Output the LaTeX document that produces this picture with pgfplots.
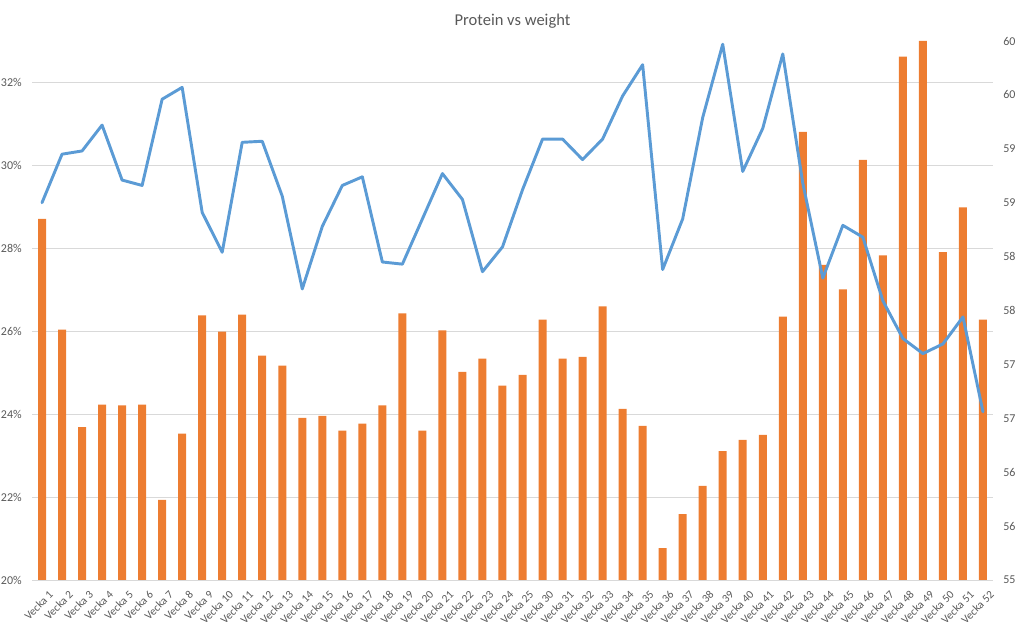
\documentclass[border=0pt]{standalone}
\usepackage{pgfplots}
\pgfplotsset{compat=1.18}
\usepackage{pgfplotstable}
\usepackage{fontspec}
\setmainfont{Carlito}
\definecolor{barorange}{HTML}{ED7D31}
\definecolor{lineblue}{HTML}{5B9BD5}
\definecolor{txtgray}{HTML}{595959}
\definecolor{gridgray}{HTML}{D9D9D9}

\pgfplotstableread{
idx bar line
0 28.71 58.50
1 26.04 58.95
2 23.69 58.98
3 24.23 59.22
4 24.21 58.71
5 24.23 58.66
6 21.93 59.46
7 23.53 59.57
8 26.38 58.41
9 25.99 58.04
10 26.40 59.06
11 25.41 59.07
12 25.17 58.56
13 23.91 57.70
14 23.96 58.28
15 23.60 58.66
16 23.77 58.74
17 24.21 57.95
18 26.43 57.93
19 23.60 58.35
20 26.02 58.77
21 25.02 58.53
22 25.34 57.86
23 24.69 58.09
24 24.95 58.62
25 26.28 59.09
26 25.34 59.09
27 25.38 58.90
28 26.60 59.09
29 24.13 59.49
30 23.72 59.78
31 20.77 57.88
32 21.59 58.35
33 22.27 59.29
34 23.11 59.97
35 23.38 58.79
36 23.50 59.19
37 26.35 59.88
38 30.81 58.68
39 27.60 57.80
40 27.01 58.29
41 30.13 58.18
42 27.83 57.59
43 32.62 57.24
44 33.00 57.10
45 27.91 57.19
46 28.99 57.44
47 26.28 56.56
}\data

\begin{document}
\begin{tikzpicture}
\useasboundingbox (0pt,0pt) rectangle (765.75pt,471pt);
\begin{axis}[
  at={(24pt,36pt)}, anchor=south west,
  scale only axis, width=720.75pt, height=404.25pt,
  xmin=-0.5, xmax=47.5, ymin=20, ymax=33,
  axis x line*=bottom, axis y line*=left,
  x axis line style={gridgray, line width=0.6pt},
  y axis line style={draw=none},
  major tick length=0pt,
  ytick={20,22,24,26,28,30,32},
  yticklabels={20\%,22\%,24\%,26\%,28\%,30\%,32\%},
  ymajorgrids, grid style={gridgray, line width=0.6pt},
  xtick={0,...,47},
  xticklabels={Vecka 1,Vecka 2,Vecka 3,Vecka 4,Vecka 5,Vecka 6,Vecka 7,Vecka 8,Vecka 9,Vecka 10,Vecka 11,Vecka 12,Vecka 13,Vecka 14,Vecka 15,Vecka 16,Vecka 17,Vecka 18,Vecka 19,Vecka 20,Vecka 21,Vecka 22,Vecka 23,Vecka 24,Vecka 25,Vecka 30,Vecka 31,Vecka 32,Vecka 33,Vecka 34,Vecka 35,Vecka 36,Vecka 37,Vecka 38,Vecka 39,Vecka 40,Vecka 41,Vecka 42,Vecka 43,Vecka 44,Vecka 45,Vecka 46,Vecka 47,Vecka 48,Vecka 49,Vecka 50,Vecka 51,Vecka 52},
  xticklabel style={rotate=45, anchor=east, inner sep=0pt, xshift=-1.75pt, yshift=-11.5pt, font=\fontsize{8.5}{9}\selectfont, text=txtgray},
  yticklabel style={anchor=east, inner sep=0pt, xshift=-7.5pt, font=\fontsize{9}{10}\selectfont, text=txtgray},
  title={Protein vs weight},
  title style={at={(0.5,1)}, anchor=center, yshift=9pt, font=\fontsize{12.4}{14}\selectfont, text=txtgray},
  ybar, bar width=6pt,
  clip=true,
]
\addplot[fill=barorange, draw=none] table[x=idx, y=bar]{\data};
\end{axis}
\begin{axis}[
  at={(24pt,36pt)}, anchor=south west,
  scale only axis, width=720.75pt, height=404.25pt,
  xmin=-0.5, xmax=47.5, ymin=55, ymax=60,
  axis x line=none, axis y line*=right,
  y axis line style={draw=none},
  major tick length=0pt,
  ytick={55,55.5,56,56.5,57,57.5,58,58.5,59,59.5,60},
  yticklabels={55,56,56,57,57,58,58,59,59,60,60},
  yticklabel style={anchor=west, inner sep=0pt, xshift=7.5pt, font=\fontsize{9}{10}\selectfont, text=txtgray},
  clip=false,
]
\addplot[lineblue, line width=2.2pt, line join=round, line cap=round, mark=none] table[x=idx, y=line]{\data};
\end{axis}
\end{tikzpicture}
\end{document}
